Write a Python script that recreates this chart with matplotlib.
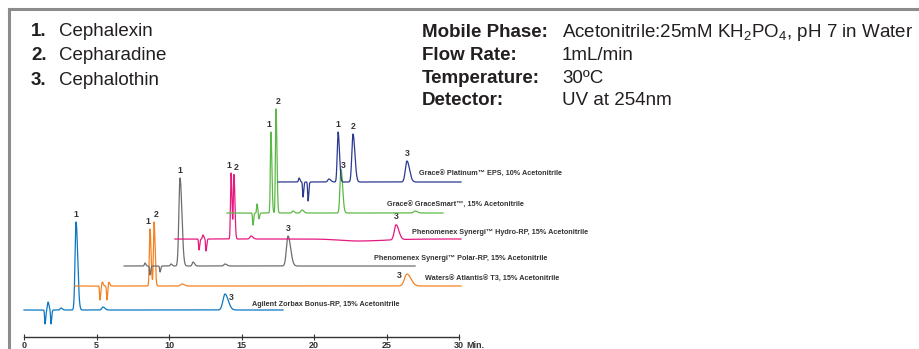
import numpy as np
import matplotlib
matplotlib.use("Agg")
import matplotlib.pyplot as plt
from matplotlib.lines import Line2D
from matplotlib import font_manager

plt.rcParams['font.family'] = ['Liberation Sans', 'DejaVu Sans']
plt.rcParams['mathtext.fontset'] = 'custom'
plt.rcParams['mathtext.rm'] = 'Liberation Sans'

W, H = 919, 349

# compounds
compounds = ['Cephalexin', 'Cepharadine', 'Cephalothin']

# run conditions
cond_names = ['Mobile Phase:', 'Flow Rate:', 'Temperature:', 'Detector:']
cond_values = ['Acetonitrile:25mM KH$_\\mathregular{2}$PO$_\\mathregular{4}$, pH 7 in Water',
               '1mL/min', '30ºC', 'UV at 254nm']

# columns, bottom to top
columns = ['Agilent Zorbax Bonus-RP, 15% Acetonitrile',
           'Waters® Atlantis® T3, 15% Acetonitrile',
           'Phenomenex Synergi™ Polar-RP, 15% Acetonitrile',
           'Phenomenex Synergi™ Hydro-RP, 15% Acetonitrile',
           'Grace® GraceSmart™, 15% Acetonitrile',
           'Grace® Platinum™ EPS, 10% Acetonitrile']
colors = ['#0b77c2', '#f58220', '#6d6e71', '#e6197f', '#5db947', '#2b3990']

# trace start / end on the time axis (min) and stacking offsets
t_start = [0.0, 3.52, 6.9, 10.41, 14.0, 17.52]
t_end = [17.86, 30.14, 26.97, 30.14, 28.9, 30.14]
offsets = [27, 51, 71, 98, 124, 155]

# numbered peaks: time (min), height, width (sigma, min)
peak_num = [[1, 3], [1, 2, 3], [1, 3], [1, 2, 3], [1, 2, 3], [1, 2, 3]]
peak_t = [[3.59, 13.86], [8.69, 8.97, 26.41], [10.76, 18.21],
          [14.28, 14.48, 25.66], [17.03, 17.38, 21.86], [21.66, 22.69, 26.41]]
peak_h = [[88, 16], [57, 64, 12], [88, 30], [66, 64, 15], [81, 104, 44], [50, 48, 21]]
peak_w = [[0.07, 0.14], [0.045, 0.045, 0.17], [0.08, 0.11],
          [0.04, 0.04, 0.12], [0.04, 0.04, 0.07], [0.06, 0.08, 0.11]]

# small system peaks / disturbances
minor_t = [[1.45, 1.66, 1.86, 2.55, 5.45],
           [5.24, 5.4, 5.72, 5.85, 10.9],
           [8.34, 8.69, 9.38, 10.14, 11.66, 13.86],
           [12.07, 12.34, 12.55, 15.66, 23.0],
           [15.79, 16.07, 16.2, 18.55, 19.17, 26.97],
           [18.97, 19.24, 19.59, 21.03]]
minor_h = [[-14, 8, -14, 2, 3],
           [-14, 4, -14, 4, 2],
           [3, -9, -6, 2, 4, 2],
           [-11, 4, -12, 3, -2],
           [-12, 9, -6, 2, 3, 2],
           [4, -15, -19, 3]]
minor_w = [[0.03, 0.04, 0.03, 0.06, 0.08],
           [0.03, 0.04, 0.03, 0.04, 0.1],
           [0.04, 0.03, 0.03, 0.05, 0.06, 0.08],
           [0.03, 0.04, 0.03, 0.08, 1.2],
           [0.03, 0.03, 0.03, 0.06, 0.08, 0.1],
           [0.04, 0.03, 0.03, 0.08]]

# where the column name sits (min, height above baseline)
name_t = [15.72, 27.66, 24.14, 26.76, 25.03, 27.24]
name_dy = [5, 7, 8, 6, 8, 8]

# peak number placement nudges (min, px) where they are not straight above
label_nudge = {(0, 1): (0.45, -8), (1, 2): (-0.5, -6), (4, 2): (0.15, -1)}


def trace(t, centers, heights, widths):
    y = np.zeros_like(t)
    for c, h, w in zip(centers, heights, widths):
        left = np.exp(-0.5 * ((t - c) / w) ** 2)
        right = np.exp(-0.5 * ((t - c) / (w * 1.6)) ** 2)  # a bit of tailing
        y += h * np.where(t > c, right, left)
    return y


# condensed bold face for the small labels, if there is one
names = {f.name for f in font_manager.fontManager.ttflist}
if 'Liberation Sans Narrow' in names:
    narrow, small = ['Liberation Sans Narrow'], 6.0
else:
    narrow, small = ['Liberation Sans'], 5.2

fig = plt.figure(figsize=(W / 100, H / 100), dpi=100)

# gray frame (top and left)
frame = '#8c8c8c'
fig.add_artist(Line2D([9 / W, 1], [1 - 9 / H, 1 - 9 / H], color=frame, lw=2.2, transform=fig.transFigure))
fig.add_artist(Line2D([9 / W, 9 / W], [0, 1 - 9 / H], color=frame, lw=2.2, transform=fig.transFigure))

ax = fig.add_axes([24 / W, (H - 337) / H, 435 / W, 327 / H])
ax.set_xlim(0, 30)
ax.set_ylim(0, 327)
for s in ['top', 'right', 'left']:
    ax.spines[s].set_visible(False)
ax.spines['bottom'].set_color('#333333')
ax.spines['bottom'].set_linewidth(1.0)
ax.set_yticks([])
ax.set_xticks([0, 5, 10, 15, 20, 25, 30])
ax.tick_params(axis='x', direction='inout', length=4, width=0.8, color='#333333',
               pad=1, labelsize=6.5, labelcolor='#333333')
for lab in ax.get_xticklabels():
    lab.set_fontweight('bold')
    lab.set_family(narrow)
ax.annotate('Min.', xy=(30, 0), xytext=(5, -3), textcoords='offset points',
            ha='left', va='top', fontsize=6.5, fontweight='bold', color='#333333',
            family=narrow, annotation_clip=False)

for i in range(len(columns)):
    t = np.linspace(t_start[i], t_end[i], 4000)
    y = offsets[i] + trace(t, peak_t[i], peak_h[i], peak_w[i]) \
        + trace(t, minor_t[i], minor_h[i], minor_w[i])
    ax.plot(t, y, color=colors[i], lw=0.9, clip_on=False, zorder=2 + i)
    for k, (n, pt, ph) in enumerate(zip(peak_num[i], peak_t[i], peak_h[i])):
        dx, dy = 0, 3
        if k + 1 < len(peak_t[i]) and peak_t[i][k + 1] - pt < 0.5:
            dx = -0.15
        if k > 0 and pt - peak_t[i][k - 1] < 0.5:
            dx = 0.15
        if (i, k) in label_nudge:
            dx, dy = label_nudge[(i, k)]
        ax.text(pt + dx, offsets[i] + ph + dy, str(n), ha='center', va='bottom',
                fontsize=6.3, fontweight='bold', color='#333333', family=narrow,
                clip_on=False)
    ax.text(name_t[i], offsets[i] + name_dy[i], columns[i], ha='left', va='center',
            fontsize=small, fontweight='bold', color='#333333', family=narrow, clip_on=False)

# compound list
for i, c in enumerate(compounds):
    yb = 1 - [36, 60, 85][i] / H
    fig.text(31 / W, yb, f'{i + 1}.', fontsize=13.5, fontweight='bold', color='#231f20', va='baseline')
    fig.text(59 / W, yb, c, fontsize=13.5, color='#231f20', va='baseline')

# conditions
for i, (n, v) in enumerate(zip(cond_names, cond_values)):
    yb = 1 - [37, 60, 83, 105][i] / H
    fig.text(422 / W, yb, n, fontsize=13.5, fontweight='bold', color='#231f20', va='baseline')
    fig.text(562 / W, yb, v, fontsize=13.5, color='#231f20', va='baseline')

fig.savefig('out.png', dpi=100)
